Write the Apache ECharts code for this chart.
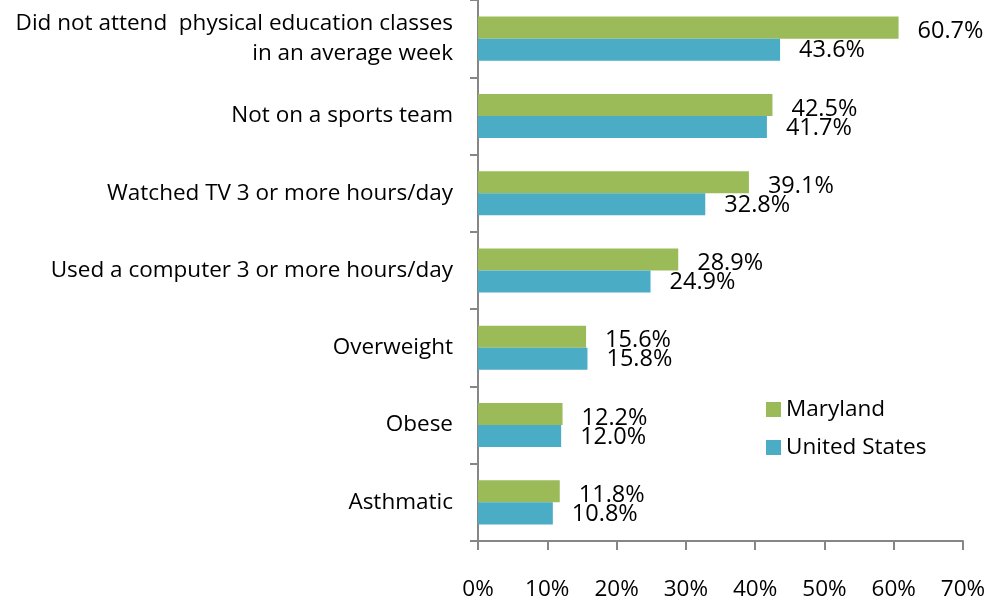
<!DOCTYPE html>
<html>
<head>
<meta charset="utf-8">
<script src="https://cdn.jsdelivr.net/npm/echarts@6/dist/echarts.min.js"></script>
<style>
  html, body { margin: 0; padding: 0; background: #fff; }
  #chart { width: 1004px; height: 602px; }
</style>
</head>
<body>
<div id="chart"></div>
<script>
  // categories, top to bottom
  var categories = [
    "Did not attend  physical education classes\nin an average week",
    "Not on a sports team",
    "Watched TV 3 or more hours/day",
    "Used a computer 3 or more hours/day",
    "Overweight",
    "Obese",
    "Asthmatic"
  ];
  var maryland = [60.7, 42.5, 39.1, 28.9, 15.6, 12.2, 11.8];
  var unitedStates = [43.6, 41.7, 32.8, 24.9, 15.8, 12.0, 10.8];

  var FONT = "'Open Sans', 'Liberation Sans', sans-serif";
  var axisGray = "#868686";

  var chart = echarts.init(document.getElementById("chart"));
  chart.setOption({
    animation: false,
    textStyle: { fontFamily: FONT },
    grid: { left: 478, right: 41, top: -1, bottom: 61, containLabel: false },
    legend: {
      orient: "vertical",
      left: 761,
      top: 393,
      itemWidth: 15,
      itemHeight: 15,
      itemGap: 15,
      icon: "rect",
      textStyle: { fontSize: 22.5, color: "#000", fontFamily: FONT, padding: [0, 0, 0, 0] },
      data: ["Maryland", "United States"]
    },
    xAxis: {
      type: "value",
      min: 0,
      max: 70,
      interval: 10,
      axisLine: { show: true, lineStyle: { color: axisGray, width: 2 } },
      axisTick: { show: true, length: 9, lineStyle: { color: axisGray, width: 2 } },
      splitLine: { show: false },
      axisLabel: {
        margin: 37,
        fontSize: 22.5,
        color: "#000",
        formatter: "{value}%"
      }
    },
    yAxis: {
      type: "category",
      inverse: true,
      data: categories,
      axisLine: { show: true, lineStyle: { color: axisGray, width: 2 } },
      axisTick: { show: true, length: 8, lineStyle: { color: axisGray, width: 2 } },
      axisLabel: {
        margin: 25,
        fontSize: 22.5,
        lineHeight: 30,
        color: "#000",
        align: "right"
      }
    },
    series: [
      {
        name: "Maryland",
        type: "bar",
        data: maryland,
        barGap: "0%",
        barCategoryGap: "43%",
        itemStyle: { color: "#9BBB59" },
        label: {
          show: true,
          position: "right",
          distance: 19,
          offset: [0, 4],
          fontSize: 23.5,
          color: "#000",
          formatter: function (p) { return p.value.toFixed(1) + "%"; }
        }
      },
      {
        name: "United States",
        type: "bar",
        data: unitedStates,
        itemStyle: { color: "#4BACC6" },
        label: {
          show: true,
          position: "right",
          distance: 19,
          offset: [0, 1],
          fontSize: 23.5,
          color: "#000",
          formatter: function (p) { return p.value.toFixed(1) + "%"; }
        }
      }
    ]
  });
</script>
</body>
</html>
